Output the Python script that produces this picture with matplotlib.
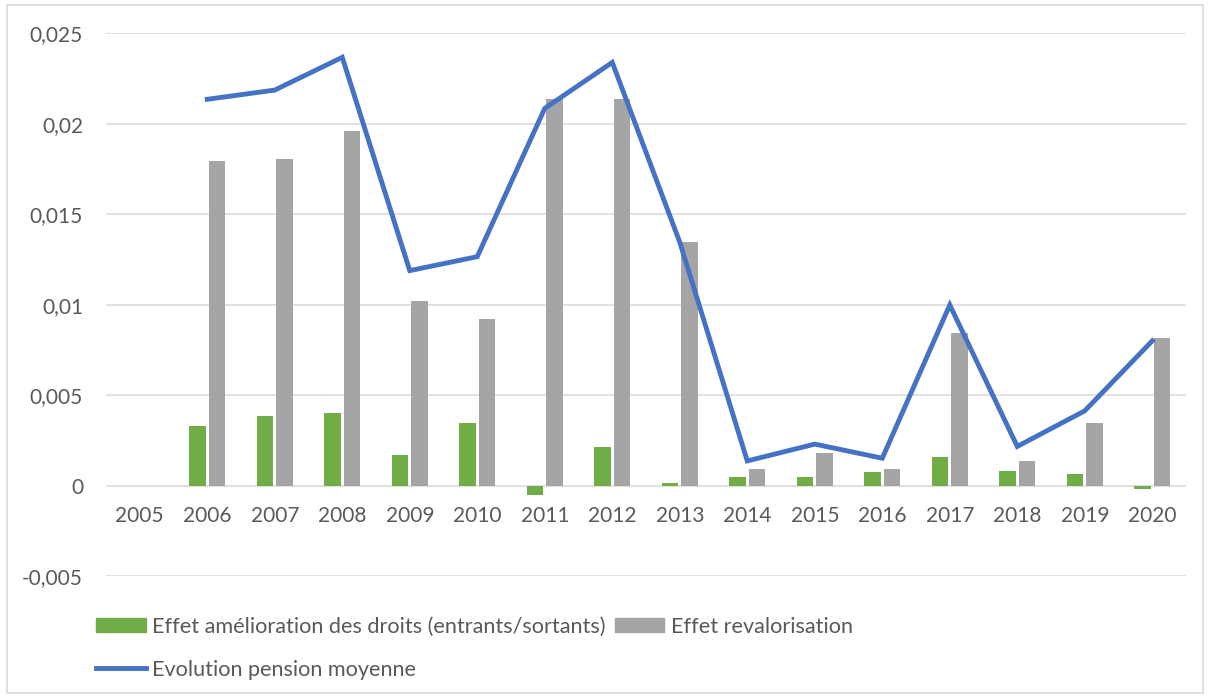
import numpy as np
import matplotlib
matplotlib.use("Agg")
import matplotlib.pyplot as plt
from matplotlib.patches import Patch, Rectangle
from matplotlib.lines import Line2D
from matplotlib.ticker import MultipleLocator, FuncFormatter

plt.rcParams['font.family'] = ['Lato', 'DejaVu Sans']

years = ['2005', '2006', '2007', '2008', '2009', '2010', '2011', '2012',
         '2013', '2014', '2015', '2016', '2017', '2018', '2019', '2020']
effet_droits = [np.nan, 0.00331, 0.00385, 0.00402, 0.00170, 0.00348, -0.00055, 0.00212,
                0.00015, 0.00048, 0.00048, 0.00074, 0.00159, 0.00081, 0.00065, -0.00020]
effet_reval = [np.nan, 0.01796, 0.01805, 0.01960, 0.01020, 0.00920, 0.02135, 0.02135,
               0.01348, 0.00091, 0.00179, 0.00091, 0.00842, 0.00133, 0.00348, 0.00814]
evol_pension = [np.nan, 0.02135, 0.02186, 0.02367, 0.01188, 0.01265, 0.02085, 0.02339,
                0.01345, 0.00136, 0.00229, 0.00151, 0.00998, 0.00216, 0.00413, 0.00800]

green = '#70AD47'
grey = '#A5A5A5'
blue = '#4472C4'
txt = '#595959'

fig = plt.figure(figsize=(12.1, 6.99), dpi=100)
ax = fig.add_axes([0.0876, 0.176, 0.8926, 0.7764])

x = np.arange(len(years))
w = 0.245
ax.bar(x - 0.145, effet_droits, width=w, color=green, zorder=2)
ax.bar(x + 0.145, effet_reval, width=w, color=grey, zorder=2)
ax.plot(x, evol_pension, color=blue, lw=3.5, solid_joinstyle='miter', zorder=3)

ax.set_xlim(-0.5, len(years) - 0.5)
ax.set_ylim(-0.005, 0.025)
ax.yaxis.set_major_locator(MultipleLocator(0.005))
ax.yaxis.set_major_formatter(FuncFormatter(lambda v, p: f"{v:g}".replace('.', ',')))
ax.grid(axis='y', color='#D9D9D9', lw=1.1, zorder=0)
ax.tick_params(axis='y', length=0, pad=16.5, labelsize=15, labelcolor=txt)
ax.set_xticks([])
for s in ax.spines.values():
    s.set_visible(False)

# year labels sit just under the zero line
for i, yr in enumerate(years):
    ax.annotate(yr, (i, 0), xytext=(0, -26.3), textcoords='offset points',
                ha='center', va='baseline', fontsize=15, color=txt)

handles = [Patch(color=green), Line2D([], [], color=blue, lw=3.5), Patch(color=grey)]
labels = ['Effet amélioration des droits (entrants/sortants)',
          'Evolution pension moyenne', 'Effet revalorisation']
fig.legend(handles, labels, loc='upper left', bbox_to_anchor=(96 / 1210, 1 - 617 / 699),
           ncol=2, frameon=False, fontsize=15.6, labelcolor=txt, handlelength=2.3,
           handleheight=0.6, handletextpad=0.3, columnspacing=0.4, labelspacing=1.05,
           borderpad=0, borderaxespad=0)

fig.patches.append(Rectangle((7 / 1210, 6 / 699), 1196 / 1210, 688 / 699,
                             transform=fig.transFigure, fill=False,
                             edgecolor='#D9D9D9', lw=1.2))

fig.savefig('out.png', dpi=100)
